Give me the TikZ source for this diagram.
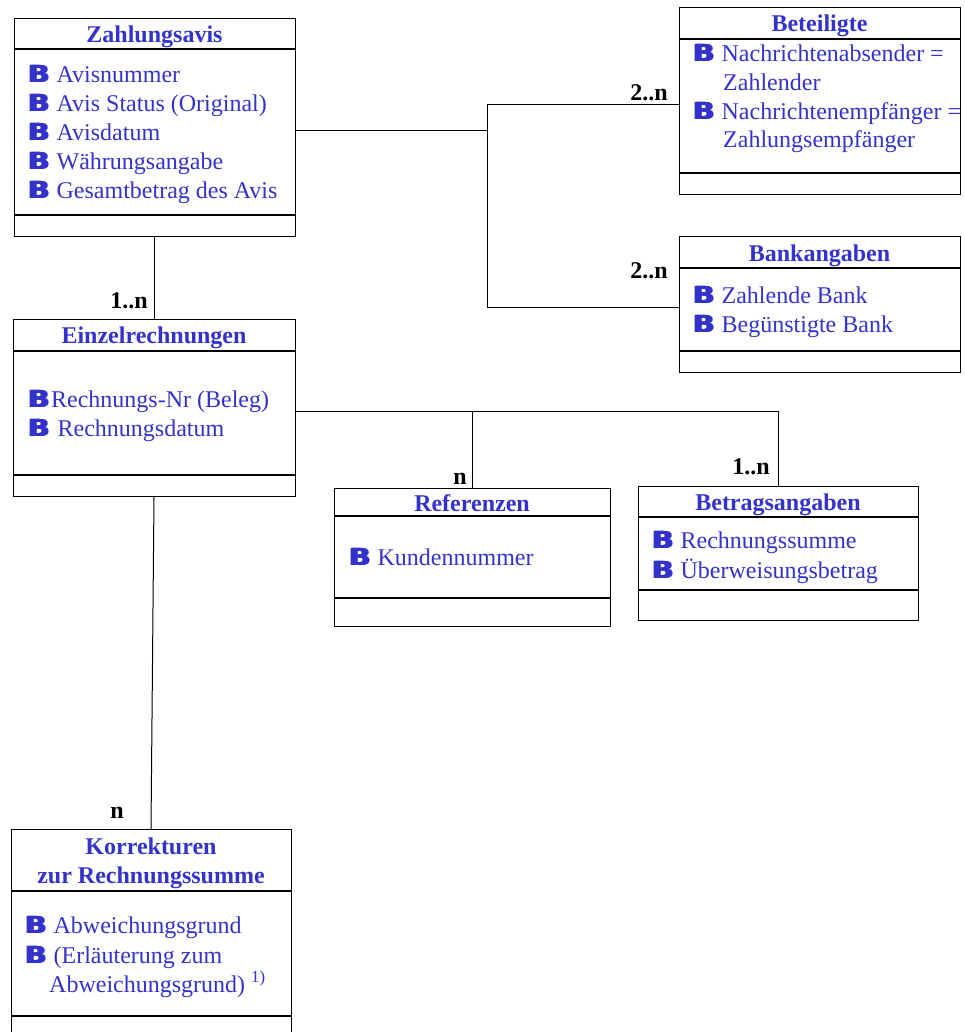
\documentclass[tikz,border=0pt]{standalone}
\usepackage{fontspec}
\setmainfont{Liberation Serif}
\newfontfamily\bulfont{DejaVu Sans}
\usepackage{graphicx}
\definecolor{ablue}{RGB}{51,51,204}
\newcommand\bulB{\scalebox{1.22}[1]{B}}
\newcommand\bul{{\bulfont\bfseries\fontsize{23.5}{23.5}\selectfont\rlap{\bulB}\hspace{0.8pt}\rlap{\bulB}\hspace{0.8pt}\bulB}}
\newcommand\fsz{\fontsize{24}{29}\selectfont}
\begin{document}
\begin{tikzpicture}[x=1pt,y=-1pt,
  box/.style={draw, line width=1pt, inner sep=0pt, anchor=north west},
  sepl/.style={line width=1.2pt},
  conn/.style={line width=1pt},
  txt/.style={anchor=base west, inner sep=0pt, font=\fsz, text=ablue},
  ttl/.style={anchor=base, inner sep=0pt, font=\fsz\bfseries, text=ablue},
  card/.style={anchor=base east, inner sep=0pt, font=\fsz\bfseries}]
\useasboundingbox (0,0) rectangle (964,1032);
\fill[white] (0,0) rectangle (964,1032);

% Zahlungsavis
\node[box, minimum width=281pt, minimum height=218pt] (za) at (14,18) {};
\draw[sepl] (za.west |- 0,49) -- (za.east |- 0,49);
\draw[sepl] (za.west |- 0,215) -- (za.east |- 0,215);
\node[ttl] (zat) at (154.5,43) {Zahlungsavis};
\node[txt] (za1) at (27,83) {\bul\hspace{6pt}Avisnummer};
\node[txt] (za2) at (27,112) {\bul\hspace{6pt}Avis Status (Original)};
\node[txt] (za3) at (27,141) {\bul\hspace{6pt}Avisdatum};
\node[txt] (za4) at (27,170) {\bul\hspace{6pt}Währungsangabe};
\node[txt] (za5) at (27,199) {\bul\hspace{6pt}Gesamtbetrag des Avis};

% Beteiligte
\node[box, minimum width=281pt, minimum height=187pt] (be) at (679,7) {};
\draw[sepl] (be.west |- 0,39) -- (be.east |- 0,39);
\draw[sepl] (be.west |- 0,173) -- (be.east |- 0,173);
\node[ttl] (bet) at (819.5,32) {Beteiligte};
\node[txt] (be1) at (692,62) {\bul\hspace{6pt}Nachrichtenabsender =};
\node[txt] (be2) at (723,91) {Zahlender};
\node[txt] (be3) at (692,120) {\bul\hspace{6pt}Nachrichtenempfänger =};
\node[txt] (be4) at (723,148) {Zahlungsempfänger};

% Bankangaben
\node[box, minimum width=281pt, minimum height=136pt] (ba) at (679,236) {};
\draw[sepl] (ba.west |- 0,268) -- (ba.east |- 0,268);
\draw[sepl] (ba.west |- 0,351) -- (ba.east |- 0,351);
\node[ttl] (bat) at (819.5,261) {Bankangaben};
\node[txt] (ba1) at (692,303) {\bul\hspace{6pt}Zahlende Bank};
\node[txt] (ba2) at (692,332) {\bul\hspace{6pt}Begünstigte Bank};

% Einzelrechnungen
\node[box, minimum width=282pt, minimum height=177pt] (ei) at (13,319) {};
\draw[sepl] (ei.west |- 0,351) -- (ei.east |- 0,351);
\draw[sepl] (ei.west |- 0,475) -- (ei.east |- 0,475);
\node[ttl] (eit) at (154,343) {Einzelrechnungen};
\node[txt] (ei1) at (27,407) {\bul\hspace{0.5pt}Rechnungs-Nr (Beleg)};
\node[txt] (ei2) at (27,436) {\bul\hspace{7pt}Rechnungsdatum};

% Referenzen
\node[box, minimum width=276pt, minimum height=138pt] (re) at (334,488) {};
\draw[sepl] (re.west |- 0,516) -- (re.east |- 0,516);
\draw[sepl] (re.west |- 0,598) -- (re.east |- 0,598);
\node[ttl] (ret) at (472,511) {Referenzen};
\node[txt] (re1) at (348,565) {\bul\hspace{6pt}Kundennummer};

% Betragsangaben
\node[box, minimum width=280pt, minimum height=134pt] (bt) at (638,486) {};
\draw[sepl] (bt.west |- 0,517) -- (bt.east |- 0,517);
\draw[sepl] (bt.west |- 0,590) -- (bt.east |- 0,590);
\node[ttl] (btt) at (778,510) {Betragsangaben};
\node[txt] (bt1) at (651,548) {\bul\hspace{6pt}Rechnungssumme};
\node[txt] (bt2) at (651,578) {\bul\hspace{6pt}Überweisungsbetrag};

% Korrekturen
\node[box, minimum width=280pt, minimum height=220pt] (ko) at (11,829) {};
\draw[sepl] (ko.west |- 0,891) -- (ko.east |- 0,891);
\draw[sepl] (ko.west |- 0,1016) -- (ko.east |- 0,1016);
\node[ttl] (kot1) at (151,854) {Korrekturen};
\node[ttl] (kot2) at (151,883) {zur Rechnungssumme};
\node[txt] (ko1) at (24,933) {\bul\hspace{6pt}Abweichungsgrund};
\node[txt] (ko2) at (24,963) {\bul\hspace{6pt}(Erläuterung zum};
\node[txt] (ko3) at (49,992) {Abweichungsgrund) \textsuperscript{1)}};

% connectors
\coordinate (j1) at (487,131);
\coordinate (j1a) at (487,105);
\coordinate (j1b) at (487,307);
\draw[conn] (za.east |- j1) -- (j1);
\draw[conn] (j1a) -- (j1b);
\draw[conn] (j1a) -- (be.west |- j1a);
\draw[conn] (j1b) -- (ba.west |- j1b);
\node[card] (c1) at (668,101) {2..n};
\node[card] (c2) at (668,278) {2..n};

\draw[conn] (za.south -| 154,0) -- (ei.north -| 154,0);
\node[card] (c3) at (148,308) {1..n};

\coordinate (j2) at (472,411);
\coordinate (j3) at (778,411);
\draw[conn] (ei.east |- j2) -- (j3);
\draw[conn] (j2) -- (re.north -| j2);
\draw[conn] (j3) -- (bt.north -| j3);
\node[card] (c4) at (467,484) {n};
\node[card] (c5) at (770,474) {1..n};

\draw[conn] (ei.south -| 154,0) -- (ko.north -| 151,0);
\node[card] (c6) at (124,818) {n};
\end{tikzpicture}
\end{document}
